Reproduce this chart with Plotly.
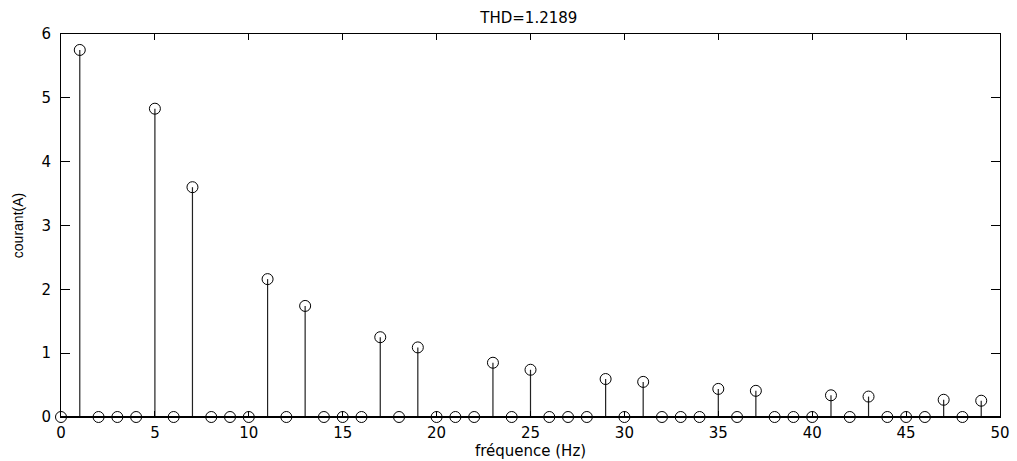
import plotly.graph_objects as go

# Harmonic spectrum of the line current (0..49 Hz bins)
freq = list(range(50))
harmonic_order = [1, 5, 7, 11, 13, 17, 19, 23, 25, 29, 31, 35, 37, 41, 43, 47, 49]
harmonic_amp = [5.75, 4.83, 3.60, 2.16, 1.74, 1.25, 1.09, 0.85, 0.74,
                0.595, 0.55, 0.44, 0.41, 0.34, 0.32, 0.27, 0.255]
thd_label = "THD=1.2189"

current = [0.0] * len(freq)
for h, a in zip(harmonic_order, harmonic_amp):
    current[h] = a

x_ticks = list(range(0, 51, 5))
y_ticks = list(range(0, 7))

# stem lines: one vertical segment per bin, separated by None
stem_x, stem_y = [], []
for f, v in zip(freq, current):
    stem_x += [f, f, None]
    stem_y += [0, v, None]

fig = go.Figure()
fig.add_trace(go.Scatter(
    x=stem_x, y=stem_y, mode="lines",
    line=dict(color="#222222", width=1.2),
    hoverinfo="skip", showlegend=False, cliponaxis=False,
))
# stem baseline along the x range
fig.add_trace(go.Scatter(
    x=[x_ticks[0], x_ticks[-1]], y=[0, 0], mode="lines",
    line=dict(color="black", width=2),
    hoverinfo="skip", showlegend=False, cliponaxis=False,
))
fig.add_trace(go.Scatter(
    x=freq, y=current, mode="markers",
    marker=dict(symbol="circle-open", size=11, color="black",
                line=dict(color="black", width=1)),
    showlegend=False, cliponaxis=False,
))

tick_font = dict(family="DejaVu Sans", size=15, color="black")

fig.update_layout(
    width=1017, height=461,
    margin=dict(l=61, r=17, t=34, b=44, autoexpand=False),
    paper_bgcolor="white", plot_bgcolor="white",
    title=dict(text=thd_label, x=0.52, xanchor="center", y=0.962, yanchor="middle",
               font=dict(family="DejaVu Sans", size=15, color="black")),
    xaxis=dict(
        range=[x_ticks[0], x_ticks[-1]], tickvals=x_ticks,
        ticks="inside", ticklen=6, tickcolor="black", tickwidth=1,
        showline=True, linecolor="black", linewidth=1, mirror="ticks",
        showgrid=False, zeroline=False, tickfont=tick_font,
        ticklabelstandoff=2, automargin=False,
        title=dict(text="fréquence (Hz)", standoff=0,
                   font=dict(family="DejaVu Sans", size=15, color="black")),
    ),
    yaxis=dict(
        range=[y_ticks[0], y_ticks[-1]], tickvals=y_ticks,
        ticks="inside", ticklen=9, tickcolor="black", tickwidth=1,
        showline=True, linecolor="black", linewidth=1, mirror="ticks",
        showgrid=False, zeroline=False, tickfont=tick_font,
        ticklabelstandoff=6, automargin=False,
        title=dict(text="courant(A)", standoff=14,
                   font=dict(family="Liberation Sans", size=14, color="black")),
    ),
)

fig.write_html("out.html")
